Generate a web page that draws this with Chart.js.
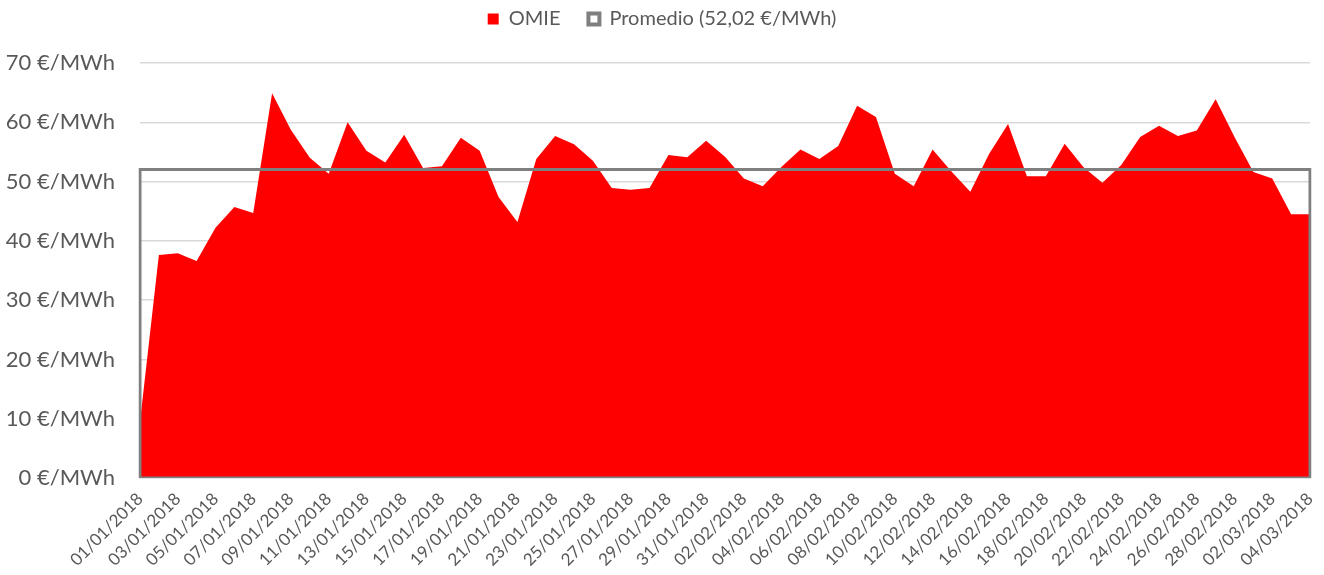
<!DOCTYPE html>
<html>
<head>
<meta charset="utf-8">
<script src="https://cdn.jsdelivr.net/npm/chart.js@4"></script>
<style>
  html, body { margin: 0; padding: 0; background: #fff; }
  #wrap { width: 1324px; height: 575px; }
</style>
</head>
<body>
<div id="wrap"><canvas id="chart" width="1324" height="575"></canvas></div>
<script>
// Daily dates, 01/01/2018 - 04/03/2018
const days = [];
for (let d = 1; d <= 31; d++) days.push(String(d).padStart(2, '0') + '/01/2018');
for (let d = 1; d <= 28; d++) days.push(String(d).padStart(2, '0') + '/02/2018');
for (let d = 1; d <= 4; d++) days.push(String(d).padStart(2, '0') + '/03/2018');

// OMIE daily price (€/MWh)
const omie = [
    9.5, 37.6, 37.9, 36.6, 42.2, 45.7, 44.7, 64.9, 58.7, 54.0,
    51.3, 60.0, 55.2, 53.2, 57.9, 52.3, 52.6, 57.4, 55.2, 47.4,
    43.2, 53.8, 57.7, 56.3, 53.5, 48.9, 48.6, 48.9, 54.5, 54.1,
    56.9, 54.2, 50.5, 49.2, 52.5, 55.4, 53.8, 56.0, 62.8, 60.9,
    51.3, 49.2, 55.4, 51.7, 48.3, 54.7, 59.7, 50.9, 50.9, 56.4,
    52.4, 49.8, 52.8, 57.5, 59.4, 57.7, 58.6, 63.9, 57.5, 51.6,
    50.5, 44.5, 44.5
];

const promedio = 52.02;
const yTicks = [0, 10, 20, 30, 40, 50, 60, 70];

const textColor = '#595959';
const fontFamily = 'Lato, "Open Sans", sans-serif';

// Promedio drawn as an outlined area: corners at first/last day, 0 and average
const first = days[0];
const last = days[days.length - 1];
const promedioBox = [
    { x: first, y: 0 },
    { x: first, y: promedio },
    { x: last, y: promedio },
    { x: last, y: 0 },
    { x: first, y: 0 }
];

// leave some room between the legend and the plot
const legendGap = {
    id: 'legendGap',
    beforeInit(chart) {
        const fit = chart.legend.fit;
        chart.legend.fit = function() {
            fit.call(this);
            this.height += 24;
        };
    }
};

const ctx = document.getElementById('chart').getContext('2d');

window.chart = new Chart(ctx, {
    type: 'line',
    data: {
        labels: days,
        datasets: [
            {
                label: 'Promedio (' + promedio.toFixed(2).replace('.', ',') + ' €/MWh)',
                data: promedioBox,
                borderColor: '#7f7f7f',
                backgroundColor: '#ffffff',
                borderWidth: 3,
                pointRadius: 0,
                fill: false,
                tension: 0
            },
            {
                label: 'OMIE',
                data: omie,
                borderColor: '#ff0000',
                backgroundColor: '#ff0000',
                borderWidth: 0,
                pointRadius: 0,
                fill: 'origin',
                tension: 0
            }
        ]
    },
    options: {
        responsive: false,
        animation: false,
        layout: { padding: { top: -19, right: 0, left: 0, bottom: 0 } },
        plugins: {
            tooltip: { enabled: false },
            legend: {
                position: 'top',
                labels: {
                    color: textColor,
                    font: { family: fontFamily, size: 20 },
                    boxWidth: 11,
                    boxHeight: 11,
                    padding: 28,
                    sort: (a, b) => b.datasetIndex - a.datasetIndex,
                    generateLabels: function(chart) {
                        const items = Chart.defaults.plugins.legend.labels.generateLabels(chart);
                        items.forEach(item => {
                            if (item.datasetIndex === 0) item.lineWidth = 4;
                        });
                        return items;
                    }
                }
            }
        },
        scales: {
            x: {
                grid: { display: false },
                border: { color: '#d9d9d9', width: 1.5 },
                ticks: {
                    autoSkip: false,
                    maxRotation: 45,
                    minRotation: 45,
                    color: textColor,
                    font: { family: fontFamily, size: 17 },
                    callback: function(value, index) {
                        return index % 2 === 0 ? this.getLabelForValue(value) : '';
                    }
                },
                afterFit: scale => {
                    scale.height = 97;
                    scale.paddingRight = 14;
                }
            },
            y: {
                min: 0,
                max: 70,
                afterBuildTicks: scale => { scale.ticks = yTicks.map(v => ({ value: v })); },
                grid: { color: '#d9d9d9', lineWidth: 1.5, drawTicks: false },
                border: { display: false },
                ticks: {
                    padding: 25,
                    color: textColor,
                    font: { family: fontFamily, size: 22 },
                    callback: v => v + ' €/MWh'
                },
                afterFit: scale => { scale.width = 140; }
            }
        }
    },
    plugins: [legendGap]
});
</script>
</body>
</html>
